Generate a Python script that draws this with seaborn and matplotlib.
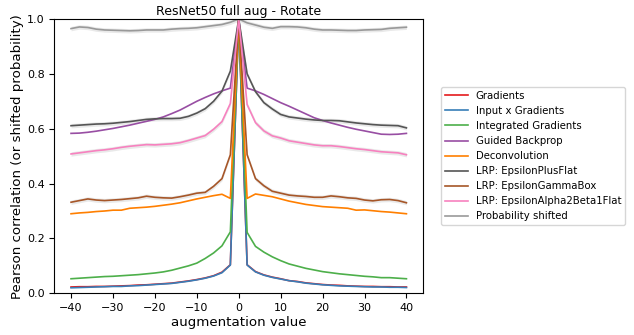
import numpy as np
import pandas as pd
import matplotlib
matplotlib.use("Agg")
import matplotlib.pyplot as plt
import seaborn as sns

aug_values = list(range(-40, 41, 2))

methods = ["Gradients", "Input x Gradients", "Integrated Gradients", "Guided Backprop",
           "Deconvolution", "LRP: EpsilonPlusFlat", "LRP: EpsilonGammaBox",
           "LRP: EpsilonAlpha2Beta1Flat", "Probability shifted"]

gradients = [0.023, 0.024, 0.024, 0.025, 0.025, 0.026, 0.027, 0.028, 0.030, 0.031,
             0.033, 0.035, 0.037, 0.041, 0.045, 0.050, 0.056, 0.064, 0.077, 0.104,
             1.0,
             0.104, 0.079, 0.067, 0.059, 0.053, 0.046, 0.043, 0.038, 0.035, 0.032,
             0.030, 0.029, 0.027, 0.026, 0.025, 0.025, 0.024, 0.024, 0.023, 0.023]
input_x_gradients = [0.020, 0.021, 0.022, 0.023, 0.024, 0.025, 0.025, 0.027, 0.028, 0.030,
                     0.032, 0.034, 0.036, 0.040, 0.044, 0.049, 0.055, 0.063, 0.075, 0.103,
                     1.0,
                     0.103, 0.078, 0.066, 0.058, 0.052, 0.046, 0.042, 0.037, 0.034, 0.031,
                     0.029, 0.027, 0.026, 0.025, 0.024, 0.023, 0.023, 0.022, 0.022, 0.021]
integrated_gradients = [0.053, 0.055, 0.057, 0.059, 0.061, 0.062, 0.064, 0.066, 0.068, 0.071,
                        0.074, 0.078, 0.084, 0.092, 0.100, 0.110, 0.127, 0.147, 0.173, 0.224,
                        1.0,
                        0.222, 0.171, 0.150, 0.133, 0.119, 0.107, 0.099, 0.091, 0.085, 0.079,
                        0.075, 0.071, 0.068, 0.065, 0.062, 0.060, 0.057, 0.057, 0.055, 0.053]
guided_backprop = [0.583, 0.584, 0.587, 0.591, 0.596, 0.601, 0.607, 0.613, 0.620, 0.627,
                   0.634, 0.643, 0.655, 0.668, 0.684, 0.700, 0.714, 0.727, 0.738, 0.748,
                   1.0,
                   0.748, 0.738, 0.725, 0.710, 0.695, 0.682, 0.668, 0.654, 0.640, 0.630,
                   0.621, 0.613, 0.605, 0.598, 0.592, 0.586, 0.580, 0.579, 0.580, 0.583]
deconvolution = [0.290, 0.293, 0.295, 0.298, 0.300, 0.303, 0.303, 0.310, 0.312, 0.314,
                 0.317, 0.321, 0.325, 0.330, 0.337, 0.344, 0.350, 0.356, 0.361, 0.346,
                 1.0,
                 0.346, 0.362, 0.357, 0.352, 0.344, 0.336, 0.330, 0.324, 0.320, 0.316,
                 0.314, 0.312, 0.310, 0.303, 0.304, 0.301, 0.298, 0.296, 0.293, 0.290]
lrp_eps_plus_flat = [0.611, 0.613, 0.615, 0.617, 0.618, 0.620, 0.623, 0.626, 0.630, 0.634,
                     0.636, 0.637, 0.637, 0.638, 0.645, 0.657, 0.673, 0.700, 0.737, 0.810,
                     1.0,
                     0.800, 0.735, 0.695, 0.672, 0.652, 0.643, 0.639, 0.635, 0.632, 0.630,
                     0.630, 0.629, 0.625, 0.621, 0.618, 0.615, 0.613, 0.612, 0.611, 0.603]
lrp_eps_gamma_box = [0.332, 0.338, 0.344, 0.340, 0.338, 0.340, 0.342, 0.345, 0.348, 0.354,
                     0.350, 0.348, 0.347, 0.352, 0.358, 0.365, 0.368, 0.390, 0.418, 0.505,
                     1.0,
                     0.505, 0.418, 0.392, 0.372, 0.365, 0.358, 0.355, 0.353, 0.350, 0.350,
                     0.355, 0.352, 0.348, 0.346, 0.340, 0.337, 0.341, 0.342, 0.338, 0.330]
lrp_eps_alpha2beta1 = [0.508, 0.512, 0.516, 0.520, 0.523, 0.527, 0.532, 0.536, 0.539, 0.542,
                       0.541, 0.543, 0.545, 0.549, 0.557, 0.566, 0.575, 0.598, 0.626, 0.692,
                       1.0,
                       0.688, 0.622, 0.592, 0.574, 0.566, 0.556, 0.551, 0.546, 0.541, 0.538,
                       0.538, 0.535, 0.531, 0.527, 0.524, 0.520, 0.516, 0.514, 0.512, 0.505]
probability_shifted = [0.965, 0.971, 0.969, 0.963, 0.960, 0.959, 0.958, 0.957, 0.958, 0.960,
                       0.960, 0.960, 0.963, 0.965, 0.966, 0.968, 0.972, 0.976, 0.980, 0.988,
                       1.0,
                       0.986, 0.978, 0.970, 0.966, 0.972, 0.972, 0.971, 0.968, 0.963, 0.960,
                       0.960, 0.959, 0.958, 0.958, 0.960, 0.961, 0.962, 0.966, 0.968, 0.970]

series = [gradients, input_x_gradients, integrated_gradients, guided_backprop,
          deconvolution, lrp_eps_plus_flat, lrp_eps_gamma_box, lrp_eps_alpha2beta1,
          probability_shifted]

colors = ["#e41a1c", "#377eb8", "#4daf4a", "#984ea3", "#ff7f00",
          "#555555", "#a65628", "#f781bf", "#999999"]
band_halfwidth = [0, 0, 0, 0, 0, 0.008, 0.008, 0.008, 0.008]

df = pd.concat([pd.DataFrame({"augmentation value": aug_values, "value": s, "method": m})
                for m, s in zip(methods, series)], ignore_index=True)

fig = plt.figure(figsize=(6.34, 3.35), dpi=100)
ax = fig.add_axes([0.0856, 0.1245, 0.6675 - 0.0856, 0.9433 - 0.1245])

sns.lineplot(data=df, x="augmentation value", y="value", hue="method",
             hue_order=methods, palette=colors, linewidth=1.2, ax=ax, errorbar=None)

for m, s, c, hw in zip(methods, series, colors, band_halfwidth):
    if hw > 0:
        arr = np.array(s)
        ax.fill_between(aug_values, arr - hw, arr + hw, color="#888888", alpha=0.18, linewidth=0)

ax.set_ylim(0, 1.0)
ax.set_title("ResNet50 full aug - Rotate", fontsize=9, pad=3)
ax.set_xlabel("augmentation value", fontsize=9.6, labelpad=2)
ax.set_ylabel("Pearson correlation (or shifted probability)", fontsize=9.6, labelpad=2)
ax.tick_params(labelsize=8)
ax.set_yticks([0.0, 0.2, 0.4, 0.6, 0.8, 1.0])

ax.legend(loc="center left", bbox_to_anchor=(1.035, 0.5), fontsize=7.3,
          handlelength=2.2, frameon=True)

fig.savefig("out.png", dpi=100)
